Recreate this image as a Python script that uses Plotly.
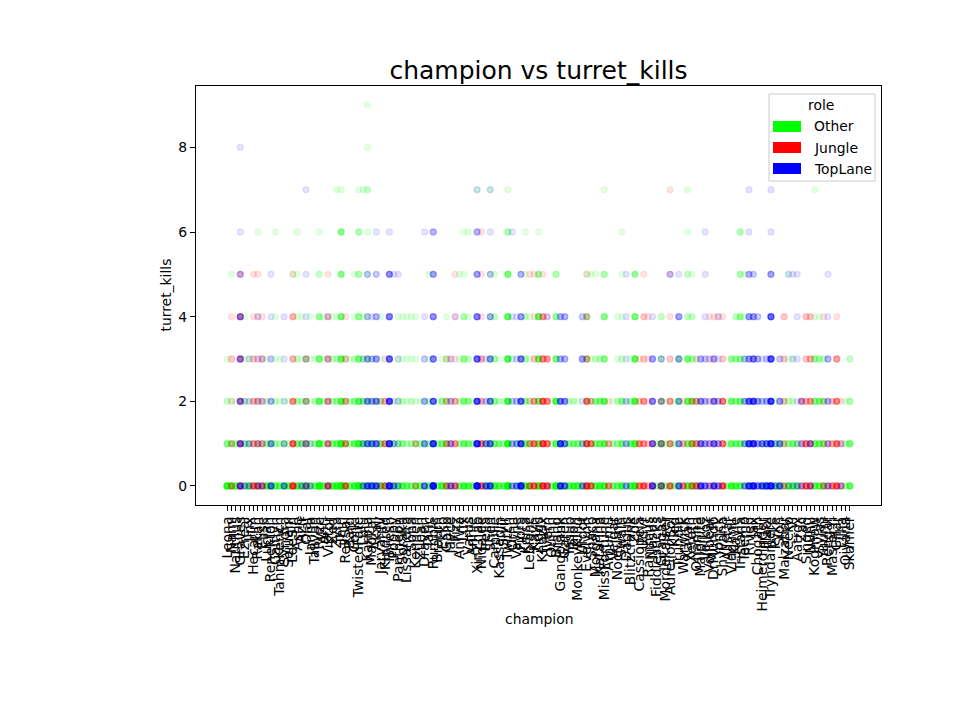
import plotly.graph_objects as go

champions = [
    "Leona", "Nami", "Nautilus", "Graves", "Ezreal", "Jinx", "Hecarim", "Rakan", "Elise", "Lucian",
    "Renekton", "Caitlyn", "TahmKench", "Syndra", "Sejuani", "LeeSin", "Ashe", "Azir", "Olaf", "Janna",
    "Taliyah", "Ryze", "Ahri", "Viktor", "Zed", "Zyra", "Jhin", "RekSai", "Bard", "Corki",
    "TwistedFate", "Lulu", "Karma", "Maokai", "Akali", "JarvanIV", "Kindred", "Thresh", "Poppy", "Pantheon",
    "Soraka", "Lissandra", "Sona", "Kennen", "Zilean", "Draven", "Taric", "Rumble", "Braum", "Ekko",
    "Galio", "Jayce", "Fizz", "Anivia", "Lux", "Varus", "Annie", "XinZhao", "Nidalee", "Irelia",
    "Shen", "Camille", "Kassadin", "Sivir", "Twitch", "Ornn", "Vayne", "Fiora", "Kaisa", "Leblanc",
    "Kayn", "Ziggs", "Khazix", "Ivern", "Quinn", "Brand", "Gangplank", "Garen", "Yasuo", "Talon",
    "MonkeyKing", "Urgot", "Evelynn", "Shaco", "Morgana", "Katarina", "MissFortune", "Amumu", "Veigar", "Nocturne",
    "Swain", "Darius", "Blitzcrank", "Zoe", "Cassiopeia", "Udyr", "Rammus", "Nasus", "Fiddlesticks", "Gragas",
    "Mordekaiser", "AurelionSol", "Kled", "Trundle", "Warwick", "Xayah", "Xerath", "Orianna", "Malphite", "Velkoz",
    "Volibear", "DrMundo", "Yorick", "Shyvana", "Alistar", "Vladimir", "Kayle", "Tristana", "Teemo", "Riven",
    "Jax", "Chogath", "Heimerdinger", "Illaoi", "Tryndamere", "Pyke", "Sion", "Malzahar", "Neeko", "Vi",
    "Aatrox", "Zac", "Singed", "Nunu", "Kogmaw", "Sylas", "Yuumi", "Rengar", "MasterYi", "Gnar",
    "Lillia", "Qiyana", "Skarner",
]

roles = ["Other", "Jungle", "TopLane"]
role_colors = ["#00ff00", "#ff0000", "#0000ff"]
y_ticks = [0, 2, 4, 6, 8]

# number of games per turret_kills value (0, 1, 2, ...) for each champion
other_counts = {
    "Leona": "15 5 2 1", "Nami": "10 4 1 0 0 1", "Nautilus": "8 3 1", "Ezreal": "6 3 2 1 1",
    "Jinx": "8 3 1 1", "Rakan": "5 2 1 0 0 0 1", "Lucian": "10 4 2 1", "Renekton": "8 3",
    "Caitlyn": "8 3 2 1 1 0 1", "TahmKench": "6 2 1 1", "Syndra": "8 3 1", "Sejuani": "8 2 1",
    "LeeSin": "0 0 0 0 0 1", "Ashe": "10 5 3 2 1 1 1", "Azir": "8 4 2 1 1", "Olaf": "6 3 3 2",
    "Janna": "5 2 1 1 1", "Taliyah": "6 3 2 1", "Ryze": "20 12 8 6 4 2 1", "Ahri": "8 3 2 1 1",
    "Zed": "10 5 3 2 1", "Zyra": "12 6 3 2 1 0 0 1", "Jhin": "25 15 10 8 6 5 5 1", "RekSai": "6 3 2 1",
    "Bard": "6 3 2 1", "Corki": "10 6 4 2 1 1", "TwistedFate": "20 12 8 6 4 3 3 1",
    "Lulu": "8 5 3 2 1 0 0 1", "Karma": "6 4 3 2 1 1 1 2 1 1", "Maokai": "5 3 2 1", "Akali": "4 2 1",
    "JarvanIV": "8 5 3 1 1", "Kindred": "6 2", "Poppy": "6 3", "Pantheon": "6 3 2 1 1",
    "Soraka": "8 4 2 1 1", "Lissandra": "6 2 1 1 1", "Sona": "5 3 2 1 1", "Kennen": "6 3 1 1 1",
    "Zilean": "6 3 1", "Draven": "3 2 1", "Taric": "6 3 2 1 0 1", "Rumble": "4 2", "Braum": "6 3 1",
    "Ekko": "10 6 4 1", "Galio": "6 4 3 2 1", "Anivia": "6 3 2 1 0 1", "Lux": "10 6 5 4 3 1 1",
    "Varus": "8 5 4 2 1 0 1", "Annie": "6 3 1", "XinZhao": "0 0 0 0 0 0 0 1", "Irelia": "6 3",
    "Shen": "6 4 3 2 1 1 0 1", "Camille": "10 6 4 3 2 1", "Kassadin": "8 4 2 1", "Sivir": "6 3 1",
    "Twitch": "25 15 12 10 8 6 3 1", "Vayne": "4 2 1 1", "Fiora": "5 2", "Kaisa": "10 6 4 3 2 1 1",
    "Leblanc": "8 4 2 1 1", "Ziggs": "15 8 8 8 8 4 1", "Quinn": "5 2 1", "Brand": "15 8 10 6 4 3",
    "Gangplank": "6 3", "Garen": "5 3", "Yasuo": "8 4 2", "Talon": "10 5 2", "MonkeyKing": "10 5 1",
    "Urgot": "3 2", "Evelynn": "3 2 2 3 3 1", "Shaco": "4 2 2 1 0 1", "Morgana": "8 5 4 2 0 1",
    "Katarina": "10 6 5 2", "MissFortune": "12 8 8 5 5 3 0 1", "Veigar": "6 3 1", "Nocturne": "6 3 2 1 1",
    "Swain": "10 6 5 2 1 1 1", "Blitzcrank": "10 6 3 1", "Zoe": "15 10 10 8 6 4", "Fiddlesticks": "3 2",
    "Gragas": "8 6 3 2 2", "Mordekaiser": "4 2 1", "AurelionSol": "3 2", "Kled": "4 2 1",
    "Trundle": "4 2 4 3", "Xayah": "10 6 8 6 2 2 1 1", "Xerath": "8 6 6 3 2 1", "Orianna": "4 2 2 1",
    "Alistar": "4 2 1", "Vladimir": "10 6 6 4", "Kayle": "8 5 4 3 2", "Tristana": "8 6 6 4 4 3 3",
    "Teemo": "2 2 1 1 1 1", "Riven": "4 2", "Heimerdinger": "3 2 1", "Illaoi": "5 2", "Pyke": "6 3 1",
    "Sion": "5 3", "Malzahar": "3 2 1", "Neeko": "8 4 2 1 0 1", "Vi": "8 5 2 1", "Aatrox": "6 3",
    "Kogmaw": "8 6 5 4 1 0 0 1", "Sylas": "8 6 5 3 1", "Yuumi": "6 5 4 2", "Qiyana": "3 2 1",
    "Skarner": "8 6 3 2",
}

jungle_counts = {
    "Nami": "3 2 1 2 1", "Graves": "6 5 4 4 4 2", "Hecarim": "8 4 3 2 1 1", "Rakan": "5 3 2 1 1 1",
    "Elise": "6 3 2 2 1", "LeeSin": "12 8 5 3 3 1", "Olaf": "3 3 2 2", "Viktor": "8 5 4 3 2 1",
    "RekSai": "6 4 3 2 1", "JarvanIV": "2 1 1", "Kindred": "5 4 3 1", "Kennen": "2 2",
    "Galio": "4 3 2 1", "Jayce": "3 2 1 1", "Fizz": "6 4 3 1 1 1", "Nidalee": "8 6 3 3 1 1 1",
    "Leblanc": "4 3 1 0 0 1", "Kayn": "8 6 4 2 1 1", "Khazix": "12 10 8 5 4 1", "Ivern": "8 6 5 4 1",
    "Evelynn": "10 8 6 3 2 1", "Shaco": "6 5 2", "Amumu": "5 3 1", "Cassiopeia": "6 5 2 1",
    "Udyr": "8 4 4 2 2 1", "Rammus": "3 2 1 1 1", "Nasus": "4 3 1", "Gragas": "4 3 2",
    "AurelionSol": "6 4 4 2 1 1 0 1", "Warwick": "6 3 1", "Xerath": "4 3 2", "Orianna": "6 4 3 1",
    "Malphite": "3 2 1", "Volibear": "3 2 1 1 1", "DrMundo": "2 1 1 1 1", "Yorick": "2 1 1 0 1",
    "Shyvana": "10 6 6 2 1", "Malzahar": "3 2 2 2 2", "Zac": "3 2 3", "Singed": "8 6 3 2 2",
    "Nunu": "6 4 4 3 2", "Yuumi": "3 1 1 0 1", "Rengar": "2 2", "MasterYi": "6 3 2",
    "Gnar": "8 6 5 4 1", "Lillia": "3 2 1",
}

toplane_counts = {
    "Graves": "6 5 4 4 4 2 1 0 1", "Ezreal": "2 1 1", "Jinx": "2 2 1 1", "Rakan": "2 1 1 1 1",
    "Elise": "2 1 1 1", "Renekton": "6 4 3 2 1 1", "Syndra": "4 2 1 1 1", "Azir": "2 1",
    "Olaf": "3 2 1 1 1 1 0 1", "Janna": "2 1", "Viktor": "2 1 1 1 1", "Lulu": "3 2 1 1",
    "Karma": "8 5 4 3 2 2", "Maokai": "8 5 3 2 1", "Akali": "8 6 5 4 3 2 1", "Thresh": "15 12 10 8 6 5 1",
    "Poppy": "4 2 1 0 0 1", "Pantheon": "2 1 1 1 0 1", "Draven": "6 4 3 2 1 0 1",
    "Rumble": "20 12 8 6 5 4 3", "Jayce": "4 3 2 1", "Fizz": "1 0 0 0 1",
    "XinZhao": "20 14 10 8 6 4 3 1", "Irelia": "6 4 2 1", "Shen": "8 6 5 4 3 2 1 1",
    "Ornn": "4 3 2 1 1 0 1", "Vayne": "4 3 2 1 1", "Fiora": "15 10 8 6 4 3", "Ivern": "1 0 0 0 1",
    "Gangplank": "10 10 6 3 3", "Garen": "6 5 5 3 3", "Urgot": "4 2 1 4 2", "Darius": "4 3 2 1 1 1",
    "Nasus": "8 5 5 4 1", "Gragas": "3 2 2 2", "AurelionSol": "0 0 0 0 0 2", "Trundle": "6 4 3 3 4 1",
    "Malphite": "8 5 4 3", "Velkoz": "6 4 3 2 1 1 1", "Volibear": "2 2 1 1", "DrMundo": "8 6 5 3",
    "Yorick": "4 3 2 1 1", "Teemo": "4 3 3 2", "Riven": "10 10 8 4 4 3 1 1", "Jax": "15 12 10 6 4 2",
    "Chogath": "6 4 4 3 2", "Heimerdinger": "8 5 2 1", "Illaoi": "10 6 3 2",
    "Tryndamere": "15 12 12 10 8 4 1 1", "Pyke": "3 2", "Sion": "6 4 4 2", "Neeko": "1 0 0 0 0 1",
    "Vi": "1 0 0 1 0 1", "Aatrox": "2 1 1 1 1 1", "Zac": "2 2 2", "Nunu": "2 3",
    "Rengar": "3 2 3 3 1 1", "Lillia": "2 1",
}

role_counts = [other_counts, jungle_counts, toplane_counts]


def expand(counts):
    xs, ys = [], []
    for champ in champions:
        s = counts.get(champ)
        if not s:
            continue
        for level, n in enumerate(int(v) for v in s.split()):
            xs += [champ] * n
            ys += [level] * n
    return xs, ys


def rgba(hex_color, a):
    h = hex_color.lstrip("#")
    r, g, b = int(h[0:2], 16), int(h[2:4], 16), int(h[4:6], 16)
    return f"rgba({r},{g},{b},{a})"


fig = go.Figure()
for role, color, counts in zip(roles, role_colors, role_counts):
    xs, ys = expand(counts)
    fig.add_trace(go.Scatter(
        x=xs, y=ys, mode="markers", name=role, showlegend=False,
        marker=dict(size=6, color=rgba(color, 0.1),
                    line=dict(width=1.3, color=rgba(color, 0.1))),
        hoverinfo="x+y",
    ))

# page offset of the plot div inside the browser window (body margin)
OFF = 8
W, H = 980 - OFF, 720 - OFF
L, R, T, B = 196 - OFF, 881 - OFF, 86 - OFF, 505 - OFF
FONT = "DejaVu Sans"


def px(xp):
    return (xp - OFF - L) / (R - L)


def py(yp):
    return (B - (yp - OFF)) / (B - T)


n = len(champions)
axis_common = dict(
    showline=True, mirror=True, linecolor="black", linewidth=1.1,
    ticks="outside", ticklen=5, tickwidth=1.1, tickcolor="black",
    showgrid=False, zeroline=False,
    tickfont=dict(family=FONT, size=13.9, color="black"),
)

fig.update_layout(
    width=W, height=H,
    margin=dict(l=L, r=W - R, t=T, b=H - B, pad=0),
    paper_bgcolor="white", plot_bgcolor="white",
    font=dict(family=FONT, color="black"),
    title=dict(text="champion vs turret_kills", x=0.5, xref="paper",
               y=1 - (70 - OFF) / H, yref="container", yanchor="middle", xanchor="center",
               font=dict(family=FONT, size=25, color="black")),
    xaxis=dict(type="category", categoryorder="array", categoryarray=champions,
               range=[-0.05 * (n - 1), (n - 1) * 1.05],
               tickmode="array", tickvals=champions, ticktext=champions,
               tickangle=-90, **axis_common),
    yaxis=dict(range=[-0.45, 9.45], tickmode="array", tickvals=y_ticks,
               ticktext=[str(v) for v in y_ticks], **axis_common),
    showlegend=False,
)

# axis titles
fig.add_annotation(text="champion", xref="paper", yref="paper", x=0.5, y=py(619),
                   showarrow=False, xanchor="center", yanchor="middle",
                   font=dict(family=FONT, size=13.9, color="black"))
fig.add_annotation(text="turret_kills", xref="paper", yref="paper", x=px(165), y=0.5,
                   showarrow=False, xanchor="center", yanchor="middle", textangle=-90,
                   font=dict(family=FONT, size=13.9, color="black"))

# legend box (drawn manually to mimic patch handles)
fig.add_shape(type="rect", xref="paper", yref="paper",
              x0=px(769), x1=px(875), y0=py(181), y1=py(94),
              line=dict(color="#cccccc", width=1), fillcolor="rgba(255,255,255,0.8)",
              layer="above")
fig.add_annotation(text="role", xref="paper", yref="paper", x=px(821), y=py(105),
                   showarrow=False, xanchor="center", yanchor="middle",
                   font=dict(family=FONT, size=13.9, color="black"))
patch_tops = [121, 142, 163]
for role, color, top in zip(roles, role_colors, patch_tops):
    fig.add_shape(type="rect", xref="paper", yref="paper",
                  x0=px(773), x1=px(801), y0=py(top + 11), y1=py(top),
                  line=dict(width=0), fillcolor=color, layer="above")
    fig.add_annotation(text=role, xref="paper", yref="paper", x=px(812), y=py(top + 5.5),
                       showarrow=False, xanchor="left", yanchor="middle",
                       font=dict(family=FONT, size=13.9, color="black"))

fig.write_html("out.html")
